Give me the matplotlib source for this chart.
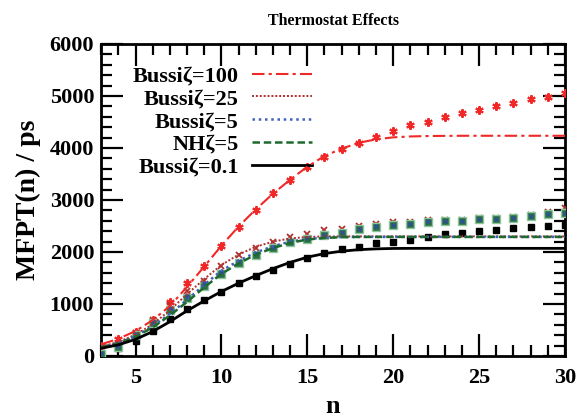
import matplotlib
matplotlib.use("Agg")
import matplotlib.pyplot as plt
from matplotlib.ticker import MultipleLocator

plt.rcParams['font.family'] = ['Liberation Serif', 'DejaVu Serif']
plt.rcParams['font.weight'] = 'bold'

n = list(range(3, 31))

# simulation points
b100_pts = [200, 320, 470, 690, 1045, 1398, 1740, 2120, 2487, 2808, 3141, 3385, 3630, 3833,
            3974, 4090, 4218, 4327, 4436, 4506, 4603, 4667, 4731, 4808, 4872, 4936, 4987, 5051]
b25_pts = [60, 210, 440, 700, 980, 1250, 1450, 1730, 1935, 2083, 2185, 2280, 2350, 2420,
           2440, 2506, 2530, 2570, 2570, 2610, 2620, 2620, 2650, 2660, 2670, 2720, 2770, 2840]
b5_pts = [50, 190, 420, 660, 920, 1160, 1400, 1620, 1820, 1980, 2100, 2210, 2260, 2335,
          2385, 2445, 2495, 2525, 2540, 2590, 2600, 2605, 2635, 2640, 2655, 2690, 2735, 2755]
nh5_pts = [40, 180, 400, 640, 890, 1120, 1346, 1570, 1782, 1950, 2077, 2190, 2247, 2327,
           2372, 2436, 2487, 2519, 2532, 2583, 2590, 2596, 2628, 2628, 2647, 2685, 2727, 2744]
b01_pts = [20, 148, 295, 487, 705, 898, 1080, 1225, 1397, 1545, 1654, 1769, 1878, 1974,
           2051, 2103, 2167, 2199, 2237, 2295, 2352, 2372, 2410, 2429, 2468, 2487, 2506, 2526]

# fitted curves, read at each n
b100_fit = [225, 330, 480, 690, 960, 1330, 1720, 2120, 2490, 2820, 3120, 3390, 3640, 3846,
            3987, 4100, 4167, 4205, 4222, 4230, 4233, 4235, 4235, 4235, 4235, 4235, 4235, 4235]
b25_fit = [180, 270, 410, 610, 880, 1190, 1480, 1750, 1950, 2100, 2200, 2260, 2290, 2300,
           2300, 2300, 2300, 2300, 2300, 2300, 2300, 2300, 2300, 2300, 2300, 2300, 2300, 2300]
b5_fit = [170, 250, 380, 570, 810, 1080, 1370, 1640, 1830, 1990, 2110, 2200, 2250, 2275,
          2288, 2290, 2290, 2290, 2290, 2290, 2290, 2290, 2290, 2290, 2290, 2290, 2290, 2290]
nh5_fit = [165, 240, 370, 550, 780, 1040, 1320, 1580, 1780, 1950, 2075, 2175, 2240, 2270,
           2285, 2290, 2290, 2290, 2290, 2290, 2290, 2290, 2290, 2290, 2290, 2290, 2290, 2290]
b01_fit = [148, 215, 320, 470, 660, 870, 1060, 1240, 1400, 1545, 1680, 1800, 1900, 1970,
           2015, 2045, 2060, 2068, 2070, 2070, 2070, 2070, 2070, 2070, 2070, 2070, 2070, 2070]

labels = ['Bussi\u03b6=100', 'Bussi\u03b6=25', 'Bussi\u03b6=5', 'NH\u03b6=5', 'Bussi\u03b6=0.1']

red = '#f02828'
dred = '#b03030'
blue = '#4060c0'
green = '#1e6a2e'

fig = plt.figure(figsize=(5.78, 4.17), dpi=100)
ax = fig.add_axes([0.175, 0.1463, 0.8025, 0.7482])

# markers
ax.plot(n, b100_pts, ls='none', marker=(6, 2, 0), ms=6, mew=1.5, color=red, zorder=3)
ax.plot(n, b01_pts, ls='none', marker='s', ms=5, color='black', zorder=3)
ax.plot(n, b25_pts, ls='none', marker='x', ms=5, mew=1.3, color=dred, zorder=3)
ax.plot(n, nh5_pts, ls='none', marker='s', ms=5.5, mfc='#2d6e45', mec='#8cc59a', mew=1.0, zorder=4)
ax.plot(n, b5_pts, ls='none', marker='x', ms=3, mew=1.0, color='#2e4f9a', zorder=5)

# fit lines
ax.plot(n, b100_fit, color=red, lw=1.5, ls=(0, (6, 2, 1.5, 2)), label=labels[0], zorder=6)
ax.plot(n, b25_fit, color=dred, lw=1.4, ls=(0, (1, 1)), label=labels[1], zorder=6)
ax.plot(n, b5_fit, color=blue, lw=1.8, ls=(0, (1, 1.5)), label=labels[2], zorder=6)
ax.plot(n, nh5_fit, color=green, lw=1.8, ls=(0, (3, 1.5)), label=labels[3], zorder=6)
ax.plot(n, b01_fit, color='black', lw=2.0, label=labels[4], zorder=6)

ax.set_xlim(3, 30)
ax.set_ylim(0, 6000)
ax.xaxis.set_major_locator(MultipleLocator(5))
ax.xaxis.set_minor_locator(MultipleLocator(1))
ax.yaxis.set_major_locator(MultipleLocator(1000))
ax.yaxis.set_minor_locator(MultipleLocator(200))
ax.tick_params(which='both', direction='in', top=True, right=True, width=1.6)
ax.tick_params(which='major', length=16, labelsize=16)
ax.tick_params(axis='x', which='major', pad=9)
ax.tick_params(axis='y', which='major', pad=5)
ax.tick_params(which='minor', length=8)
for s in ax.spines.values():
    s.set_linewidth(2)
for t in ax.get_xticklabels() + ax.get_yticklabels():
    t.set_fontweight('bold')

ax.set_xlabel('n', fontsize=19, fontweight='bold', labelpad=5)
ax.set_ylabel('MFPT(n) / ps', fontsize=20, fontweight='bold', labelpad=6)
ax.set_title('Thermostat Effects', fontsize=11.5, fontweight='bold', pad=14)

ax.legend(loc='upper right', bbox_to_anchor=(0.455, 0.93), frameon=False, markerfirst=False,
          prop={'weight': 'bold', 'size': 16}, handlelength=2.7, handletextpad=0.6,
          labelspacing=0.1, borderaxespad=0, borderpad=0)

fig.savefig('out.png', dpi=100)
